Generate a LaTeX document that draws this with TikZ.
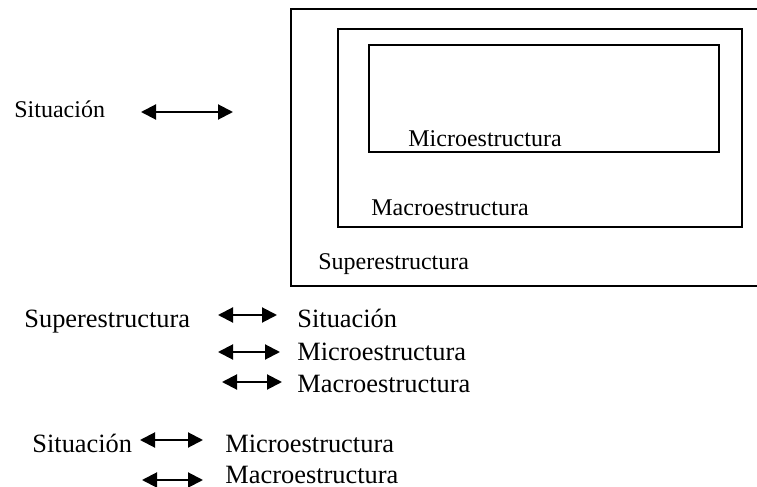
\documentclass[tikz,border=0pt]{standalone}
\usepackage{fontspec}
\setmainfont{Liberation Serif}
\usetikzlibrary{arrows.meta}

\begin{document}
\begin{tikzpicture}[x=0.5pt,y=-0.5pt,
    lbl/.style={anchor=base west, inner sep=0pt, font=\fontsize{12}{14}\selectfont},
    lblg/.style={lbl, font=\fontsize{13.2}{15}\selectfont},
    dbl/.style={{Triangle[length=7.5pt,width=7.5pt]}-{Triangle[length=7.5pt,width=7.5pt]}, line width=1pt},
    caja/.style={line width=0.9pt}]
      \useasboundingbox (0,0) rectangle (757,487);
      % cajas
      \draw[caja] (757,9) -- (291,9) -- (291,286) -- (757,286);
      \draw[caja] (338,29) rectangle (742,227);
      \draw[caja] (369,45) rectangle (719,152);
      \node (micro) at (408,147) [lbl] {Microestructura};
      \node (macro) at (371,215) [lbl] {Macroestructura};
      \node (super) at (318,269) [lbl] {Superestructura};
      \node (sit) at (14,118) [lbl] {Situación};
      % relaciones
      \node (s1) at (24,328) [lblg] {Superestructura};
      \node (s1a) at (297,328) [lblg] {Situación};
      \node (s1b) at (297,360) [lblg] {Microestructura};
      \node (s1c) at (297,392) [lblg] {Macroestructura};
      \node (s2) at (32,452) [lblg] {Situación};
      \node (s2a) at (225,452) [lblg] {Microestructura};
      \node (s2b) at (225,483) [lblg] {Macroestructura};
      \foreach \n/\xa/\xb/\y in {f0/141/233/112, f1/218/277/315, f2/218/280/352,
                                 f3/222/282/382, f4/140/203/440, f5/142/203/480} {
        \coordinate (\n l) at (\xa,\y);
        \coordinate (\n r) at (\xb,\y);
        \draw[dbl] (\n l) -- (\n r);
      }
\end{tikzpicture}
\end{document}
